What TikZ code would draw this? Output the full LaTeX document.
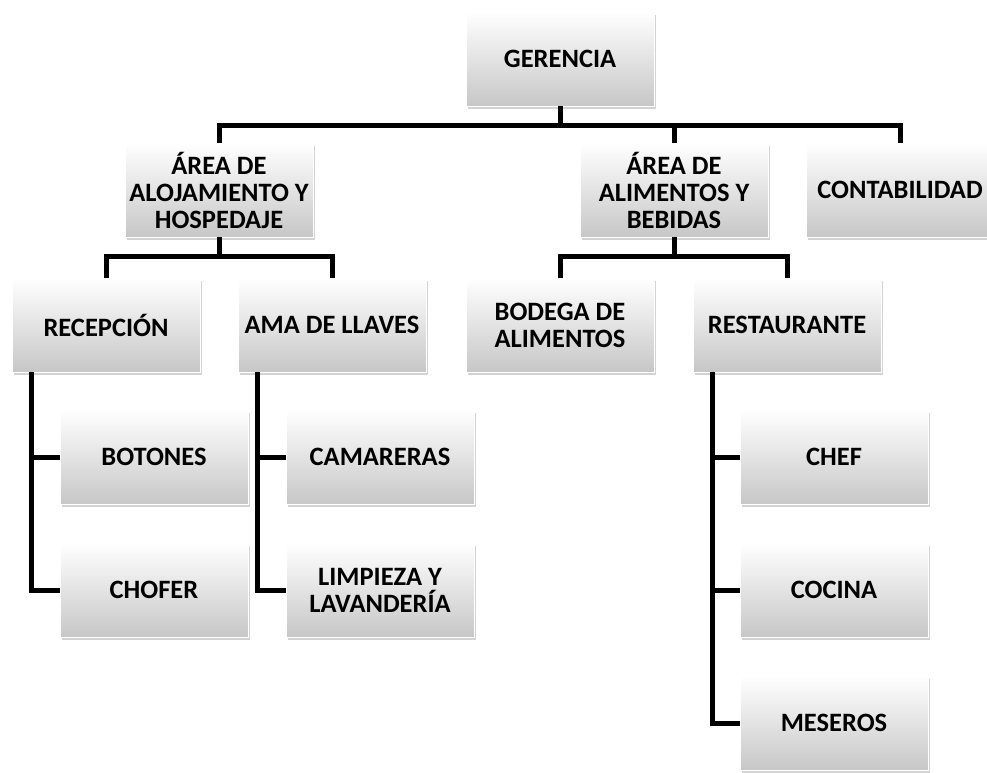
\documentclass[tikz,border=0pt]{standalone}
\usepackage{fontspec}
\setmainfont{Carlito}
\usetikzlibrary{shadows}
\tikzset{
  unit/.style={rectangle, minimum width=188pt, minimum height=94pt, inner sep=2pt, align=center,
    top color=white, bottom color=black!22, draw=white, line width=0.8pt,
    drop shadow={shadow xshift=1.5pt, shadow yshift=-2.5pt, opacity=0.35},
    font=\fontsize{26.5}{27}\selectfont\bfseries},
  link/.style={line width=5pt, black}
}
\begin{document}
\begin{tikzpicture}[x=1pt, y=-1pt]
    \useasboundingbox (0,0) rectangle (987,772);
    % Boxes %
    \node[unit] (ger) at (560,59) {GERENCIA};
    \node[unit] (aloj) at (219,190) {ÁREA DE\\ALOJAMIENTO Y\\HOSPEDAJE};
    \node[unit] (alim) at (674,190) {ÁREA DE\\ALIMENTOS Y\\BEBIDAS};
    \node[unit] (conta) at (900,190) {CONTABILIDAD};
    \node[unit] (recep) at (106,325) {RECEPCIÓN};
    \node[unit] (ama) at (332,325) {AMA DE LLAVES};
    \node[unit] (bodega) at (560,325) {BODEGA DE\\ALIMENTOS};
    \node[unit] (rest) at (787,325) {RESTAURANTE};
    \node[unit] (boton) at (154,457) {BOTONES};
    \node[unit] (chofer) at (154,590) {CHOFER};
    \node[unit] (cama) at (380,457) {CAMARERAS};
    \node[unit] (limp) at (380,590) {LIMPIEZA Y\\LAVANDERÍA};
    \node[unit] (chef) at (834,457) {CHEF};
    \node[unit] (cocina) at (834,590) {COCINA};
    \node[unit] (mes) at (834,723) {MESEROS};

    % Links %
    \draw[link] (ger.south) -- ++(0,19) -| (aloj.north);
    \draw[link] (ger.south) -- ++(0,19) -| (alim.north);
    \draw[link] (ger.south) -- ++(0,19) -| (conta.north);
    \draw[link] (aloj.south) -- ++(0,19) -| (recep.north);
    \draw[link] (aloj.south) -- ++(0,19) -| (ama.north);
    \draw[link] (alim.south) -- ++(0,19) -| (bodega.north);
    \draw[link] (alim.south) -- ++(0,19) -| (rest.north);
    \draw[link] ([xshift=20pt]recep.south west) |- (boton.west);
    \draw[link] ([xshift=20pt]recep.south west) |- (chofer.west);
    \draw[link] ([xshift=20pt]ama.south west) |- (cama.west);
    \draw[link] ([xshift=20pt]ama.south west) |- (limp.west);
    \draw[link] ([xshift=20pt]rest.south west) |- (chef.west);
    \draw[link] ([xshift=20pt]rest.south west) |- (cocina.west);
    \draw[link] ([xshift=20pt]rest.south west) |- (mes.west);
\end{tikzpicture}
\end{document}
